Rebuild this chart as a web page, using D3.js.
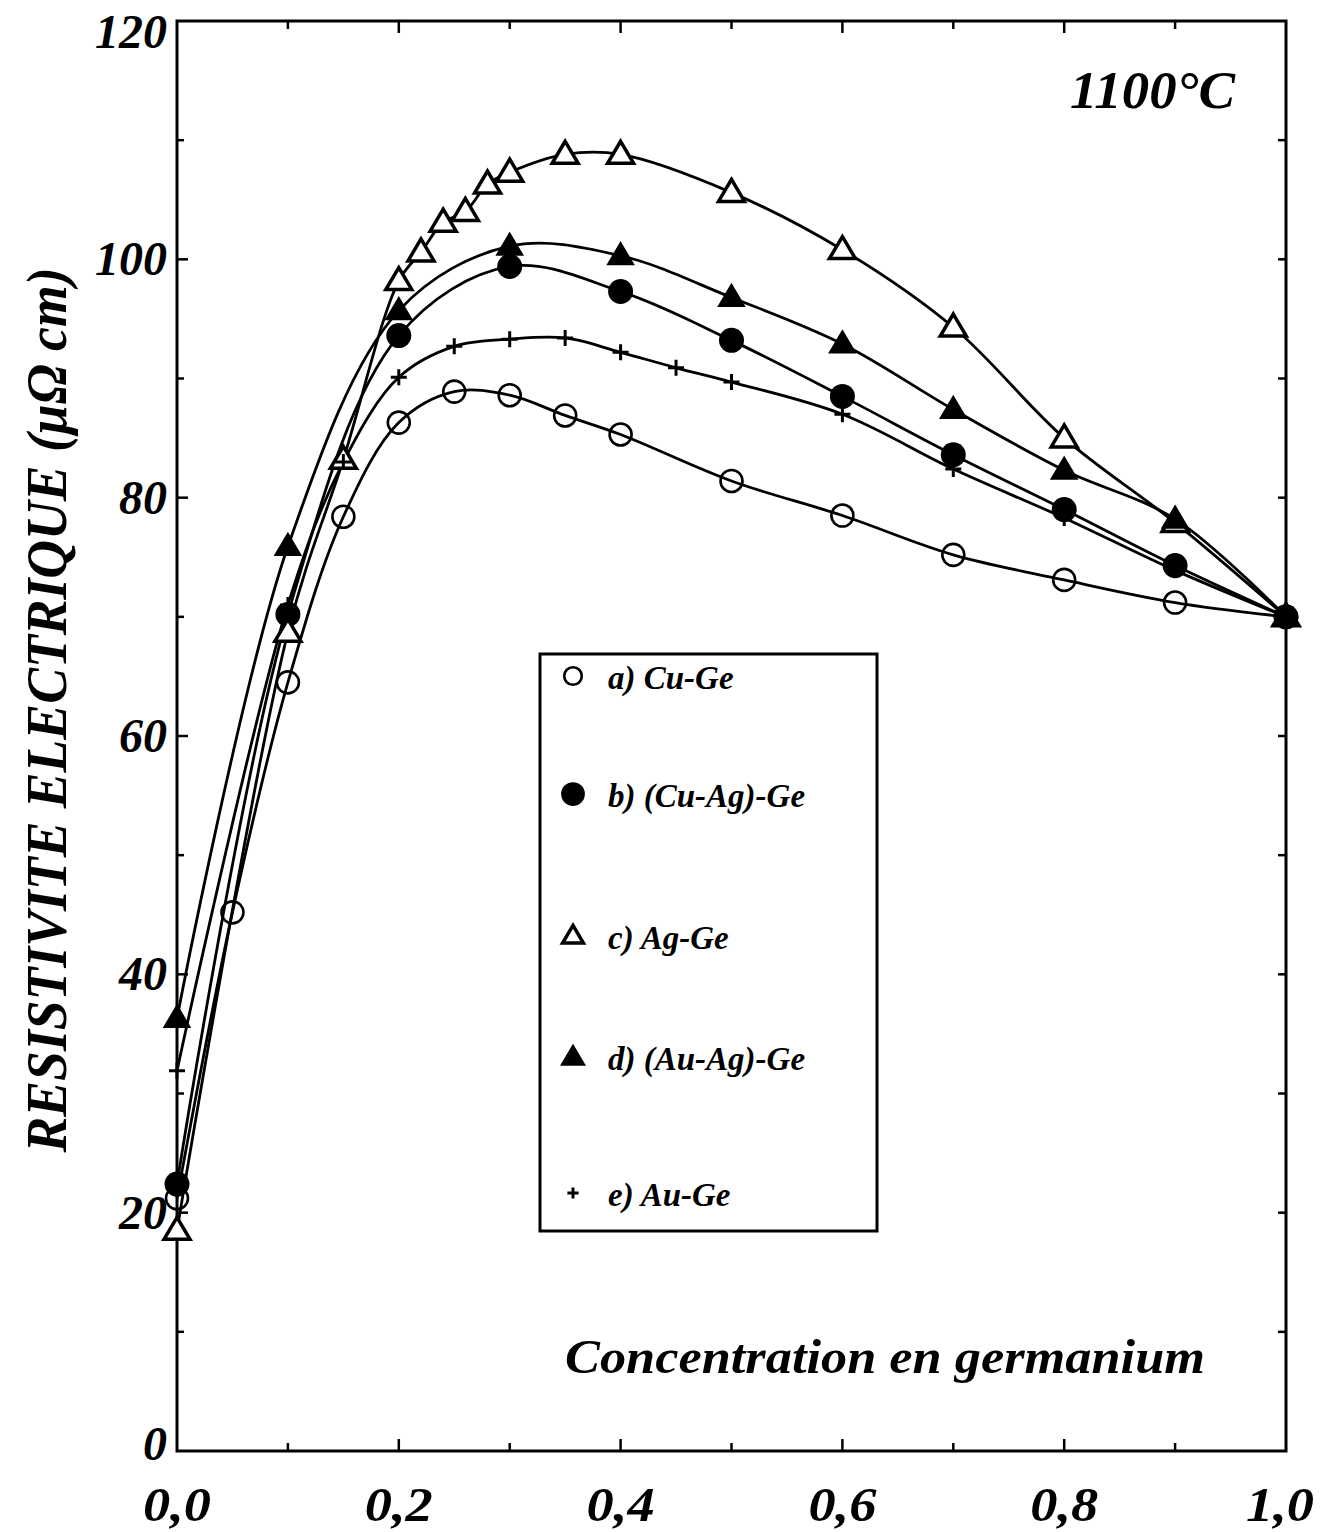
<!DOCTYPE html>
<html>
<head>
<meta charset="utf-8">
<script src="https://cdn.jsdelivr.net/npm/d3@7"></script>
<style>
  html, body { margin: 0; padding: 0; background: #fff; }
  svg { display: block; }
  text { font-family: "Liberation Serif", "Times New Roman", serif; font-weight: bold; font-style: italic; fill: #000; }
</style>
</head>
<body>
<svg id="chart" width="1330" height="1532"></svg>
<script>
// ---- data ----
const cuGeX   = [0, 0.05, 0.1, 0.15, 0.2, 0.25, 0.3, 0.35, 0.4, 0.5, 0.6, 0.7, 0.8, 0.9, 1.0];
const cuGeY   = [21.2, 45.2, 64.5, 78.4, 86.3, 88.9, 88.6, 86.9, 85.3, 81.4, 78.5, 75.2, 73.1, 71.2, 70.0];

const cuAgGeX = [0, 0.1, 0.2, 0.3, 0.4, 0.5, 0.6, 0.7, 0.8, 0.9, 1.0];
const cuAgGeY = [22.4, 70.2, 93.6, 99.4, 97.3, 93.2, 88.5, 83.6, 79.0, 74.3, 70.0];

const agGeX   = [0, 0.1, 0.15, 0.2, 0.22, 0.24, 0.26, 0.28, 0.3, 0.35, 0.4, 0.5, 0.6, 0.7, 0.8, 0.9, 1.0];
const agGeY   = [18.5, 68.7, 83.2, 98.2, 100.6, 103.1, 104.0, 106.3, 107.3, 108.8, 108.8, 105.6, 100.8, 94.3, 85.0, 77.9, 70.0];

const auAgGeX = [0, 0.1, 0.2, 0.3, 0.4, 0.5, 0.6, 0.7, 0.8, 0.9, 1.0];
const auAgGeY = [36.3, 75.9, 95.7, 101.1, 100.3, 96.8, 92.9, 87.4, 82.3, 78.2, 70.0];

const auGeX   = [0, 0.1, 0.15, 0.2, 0.25, 0.3, 0.35, 0.4, 0.45, 0.5, 0.6, 0.7, 0.8, 0.9, 1.0];
const auGeY   = [31.9, 71.0, 83.0, 90.1, 92.7, 93.3, 93.4, 92.2, 90.9, 89.7, 87.0, 82.4, 78.3, 73.9, 70.0];

const seriesNames   = ["a) Cu-Ge", "b) (Cu-Ag)-Ge", "c) Ag-Ge", "d) (Au-Ag)-Ge", "e) Au-Ge"];
const seriesSymbols = ["openCircle", "filledCircle", "openTriangle", "filledTriangle", "plus"];

const xTickValues = [0, 0.2, 0.4, 0.6, 0.8, 1.0];
const xTickLabels = ["0,0", "0,2", "0,4", "0,6", "0,8", "1,0"];
const yTickValues = [0, 20, 40, 60, 80, 100, 120];
const yTickLabels = ["0", "20", "40", "60", "80", "100", "120"];

const yAxisTitle = "RESISTIVITE ELECTRIQUE (μΩ cm)";
const xAxisTitle = "Concentration en germanium";
const tempLabel  = "1100°C";

// ---- layout ----
const svg = d3.select("#chart");
const x = d3.scaleLinear().domain([0, 1]).range([177, 1286]);
const y = d3.scaleLinear().domain([0, 120]).range([1451, 21]);

const xs = [cuGeX, cuAgGeX, agGeX, auAgGeX, auGeX];
const ys = [cuGeY, cuAgGeY, agGeY, auAgGeY, auGeY];
const series = seriesNames.map((name, i) => ({
  name, symbol: seriesSymbols[i],
  points: xs[i].map((v, j) => ({ x: v, y: ys[i][j] }))
}));

// frame
svg.append("rect")
  .attr("x", x(0)).attr("y", y(120))
  .attr("width", x(1) - x(0)).attr("height", y(0) - y(120))
  .attr("fill", "none").attr("stroke", "#000").attr("stroke-width", 3);

// ticks
const gAxes = svg.append("g").attr("stroke", "#000").attr("stroke-width", 2.5);
d3.range(1, 10).forEach(i => {
  const v = i / 10, major = i % 2 === 0, len = major ? 12 : 8;
  gAxes.append("line").attr("x1", x(v)).attr("x2", x(v)).attr("y1", y(0)).attr("y2", y(0) - len);
  gAxes.append("line").attr("x1", x(v)).attr("x2", x(v)).attr("y1", y(120)).attr("y2", y(120) + len);
});
d3.range(1, 12).forEach(i => {
  const v = i * 10, major = i % 2 === 0, len = major ? 11 : 7;
  gAxes.append("line").attr("x1", x(0)).attr("x2", x(0) + len).attr("y1", y(v)).attr("y2", y(v));
  gAxes.append("line").attr("x1", x(1)).attr("x2", x(1) - 8).attr("y1", y(v)).attr("y2", y(v));
});

// tick labels
yTickValues.forEach((v, i) => {
  const lbl = yTickLabels[i];
  const yy = Math.min(Math.max(y(v) + 16, 48), 1460);
  svg.append("text")
    .attr("x", x(0) - 10).attr("y", yy)
    .attr("text-anchor", "end")
    .attr("font-size", 48)
    .attr("textLength", lbl.length * 24).attr("lengthAdjust", "spacingAndGlyphs")
    .text(lbl);
});
xTickValues.forEach((v, i) => {
  svg.append("text")
    .attr("x", x(v) - (v === 1 ? 6 : 0)).attr("y", 1521)
    .attr("text-anchor", "middle")
    .attr("font-size", 48)
    .attr("textLength", 68).attr("lengthAdjust", "spacingAndGlyphs")
    .text(xTickLabels[i]);
});

// axis titles
svg.append("text")
  .attr("transform", "translate(66,710) rotate(-90)")
  .attr("text-anchor", "middle")
  .attr("font-size", 56)
  .attr("textLength", 885).attr("lengthAdjust", "spacingAndGlyphs")
  .text(yAxisTitle);

svg.append("text")
  .attr("x", 565).attr("y", 1373)
  .attr("font-size", 48)
  .attr("textLength", 640).attr("lengthAdjust", "spacingAndGlyphs")
  .text(xAxisTitle);

svg.append("text")
  .attr("x", 1070).attr("y", 108)
  .attr("font-size", 52)
  .attr("textLength", 165).attr("lengthAdjust", "spacingAndGlyphs")
  .text(tempLabel);

// curves
const line = d3.line().x(d => x(d.x)).y(d => y(d.y)).curve(d3.curveCatmullRom.alpha(0.5));
svg.append("g").selectAll("path").data(series).join("path")
  .attr("d", d => line(d.points))
  .attr("fill", "none").attr("stroke", "#000").attr("stroke-width", 2.8);

// markers
function drawSymbol(g, type, cx, cy, scale) {
  const s = scale || 1;
  if (type === "openCircle") {
    g.append("circle").attr("cx", cx).attr("cy", cy).attr("r", 11 * s)
      .attr("fill", "none").attr("stroke", "#000").attr("stroke-width", 2.6);
  } else if (type === "filledCircle") {
    g.append("circle").attr("cx", cx).attr("cy", cy).attr("r", 12.5 * s).attr("fill", "#000");
  } else if (type === "openTriangle" || type === "filledTriangle") {
    const h = 22 * s, w = 26 * s;
    const pts = [[cx, cy - h * 0.6], [cx + w / 2, cy + h * 0.4], [cx - w / 2, cy + h * 0.4]];
    g.append("path").attr("d", "M" + pts.map(p => p.join(",")).join("L") + "Z")
      .attr("fill", type === "filledTriangle" ? "#000" : "#fff")
      .attr("stroke", "#000").attr("stroke-width", type === "filledTriangle" ? 1.5 : 3.5)
      .attr("stroke-linejoin", "miter");
  } else if (type === "plus") {
    const a = 8 * s;
    g.append("path").attr("d", `M${cx - a},${cy}L${cx + a},${cy}M${cx},${cy - a}L${cx},${cy + a}`)
      .attr("stroke", "#000").attr("stroke-width", 3);
  }
}
const gMarks = svg.append("g");
series.forEach(s => s.points.forEach(p => drawSymbol(gMarks, s.symbol, x(p.x), y(p.y))));

// legend
svg.append("rect").attr("x", 540).attr("y", 654).attr("width", 337).attr("height", 577)
  .attr("fill", "#fff").attr("stroke", "#000").attr("stroke-width", 3);
const legendRows = [676, 794, 936, 1057, 1193];
const legendScale = [0.8, 0.95, 0.8, 0.9, 0.7];
series.forEach((s, i) => {
  drawSymbol(svg, s.symbol, 573, legendRows[i], legendScale[i]);
  svg.append("text").attr("x", 608).attr("y", legendRows[i] + 13)
    .attr("font-size", 33).text(s.name);
});
</script>
</body>
</html>
